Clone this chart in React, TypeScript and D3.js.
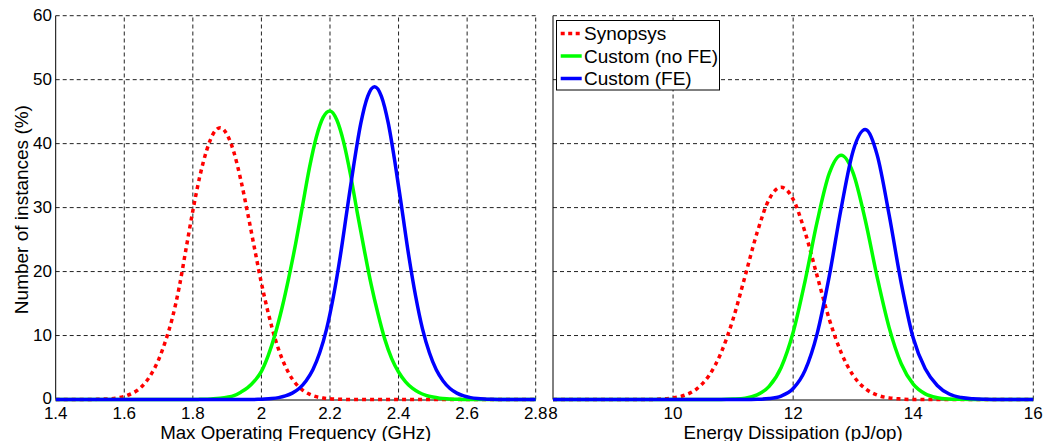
import React, { useEffect, useRef } from 'react';
import * as d3 from 'd3';

const W = 1046;
const H = 441;

// Axis ticks
const yTicks = [0, 10, 20, 30, 40, 50, 60];
const freqTicks = [1.4, 1.6, 1.8, 2, 2.2, 2.4, 2.6, 2.8];
const energyTicks = [8, 10, 12, 14, 16];

const seriesNames = ['Synopsys', 'Custom (no FE)', 'Custom (FE)'];

// Distribution of max operating frequency (GHz -> % of instances)
const freqSynopsys: [number, number][] = [
  [1.4, 0], [1.5, 0], [1.52, 0.02], [1.54, 0.06], [1.56, 0.12], [1.58, 0.24], [1.6, 0.47],
  [1.62, 0.9], [1.64, 1.5], [1.66, 2.55], [1.68, 4.1], [1.7, 6.2], [1.72, 9.1], [1.74, 12.7],
  [1.76, 17.5], [1.78, 23.5], [1.8, 29.5], [1.82, 34.8], [1.84, 38.9], [1.86, 41.6], [1.88, 42.5],
  [1.9, 41.4], [1.92, 38.6], [1.94, 34.3], [1.96, 29.1], [1.98, 23.6], [2.0, 18.2], [2.02, 13.5],
  [2.04, 9.5], [2.06, 6.4], [2.08, 4.1], [2.1, 2.5], [2.12, 1.48], [2.14, 0.83], [2.16, 0.44],
  [2.18, 0.23], [2.2, 0.11], [2.22, 0.05], [2.24, 0.02], [2.26, 0], [2.8, 0],
];
const freqCustomNoFE: [number, number][] = [
  [1.4, 0], [1.8, 0], [1.82, 0.02], [1.84, 0.05], [1.86, 0.1], [1.88, 0.2], [1.9, 0.35],
  [1.92, 0.6], [1.94, 1.15], [1.96, 1.85], [1.98, 2.9], [2.0, 4.4], [2.02, 6.9], [2.04, 10.2],
  [2.06, 14.3], [2.08, 19.1], [2.1, 24.4], [2.12, 30.3], [2.14, 36.2], [2.16, 41.0], [2.18, 44.1],
  [2.2, 45.1], [2.22, 43.7], [2.24, 40.2], [2.26, 35.1], [2.28, 29.1], [2.3, 23.4], [2.32, 18.0],
  [2.34, 13.4], [2.36, 9.4], [2.38, 6.4], [2.4, 4.3], [2.42, 2.8], [2.44, 1.76], [2.46, 1.09],
  [2.48, 0.65], [2.5, 0.38], [2.52, 0.21], [2.54, 0.11], [2.56, 0.05], [2.58, 0.02], [2.6, 0], [2.8, 0],
];
const freqCustomFE: [number, number][] = [
  [1.4, 0], [1.97, 0], [1.99, 0.02], [2.01, 0.06], [2.03, 0.14], [2.05, 0.29], [2.07, 0.56],
  [2.09, 1.0], [2.11, 1.72], [2.13, 2.9], [2.15, 4.65], [2.17, 7.3], [2.19, 11.0], [2.21, 16.1],
  [2.23, 22.4], [2.25, 29.7], [2.27, 36.9], [2.29, 43.2], [2.31, 47.4], [2.33, 48.9], [2.35, 47.4],
  [2.37, 43.2], [2.39, 36.9], [2.41, 29.7], [2.43, 22.4], [2.45, 16.1], [2.47, 11.0], [2.49, 7.3],
  [2.51, 4.65], [2.53, 2.9], [2.55, 1.72], [2.57, 1.0], [2.59, 0.56], [2.61, 0.29], [2.63, 0.14],
  [2.65, 0.06], [2.67, 0.02], [2.69, 0], [2.8, 0],
];

// Distribution of energy dissipation (pJ/op -> % of instances)
const energySynopsys: [number, number][] = [
  [8, 0], [9.6, 0], [9.8, 0.08], [10.0, 0.25], [10.2, 0.69], [10.4, 1.71], [10.6, 3.76],
  [10.8, 7.32], [11.0, 12.6], [11.2, 19.3], [11.4, 26.1], [11.6, 31.3], [11.8, 33.2], [12.0, 31.3],
  [12.2, 26.1], [12.4, 19.3], [12.6, 12.6], [12.8, 7.32], [13.0, 3.76], [13.2, 1.71], [13.4, 0.69],
  [13.6, 0.25], [13.8, 0.08], [14.0, 0], [16, 0],
];
const energyCustomNoFE: [number, number][] = [
  [8, 0], [10.8, 0], [11.0, 0.06], [11.2, 0.2], [11.4, 0.72], [11.6, 2.05], [11.8, 5.0],
  [12.0, 10.5], [12.2, 18.6], [12.4, 27.8], [12.6, 35.3], [12.8, 38.2], [13.0, 35.4], [13.2, 28.1],
  [13.4, 19.1], [13.6, 11.2], [13.8, 5.59], [14.0, 2.4], [14.2, 0.88], [14.4, 0.28], [14.6, 0.08],
  [14.8, 0.02], [15.0, 0], [16, 0],
];
const energyCustomFE: [number, number][] = [
  [8, 0], [11.2, 0], [11.4, 0.03], [11.6, 0.14], [11.8, 0.53], [12.0, 1.71], [12.2, 4.59],
  [12.4, 10.3], [12.6, 19.2], [12.8, 29.9], [13.0, 38.9], [13.2, 42.2], [13.4, 38.2], [13.6, 28.8],
  [13.8, 18.2], [14.0, 9.6], [14.2, 4.8], [14.4, 2.2], [14.6, 0.85], [14.8, 0.3], [15.0, 0.1],
  [15.2, 0.03], [15.4, 0], [16, 0],
];

const colors = ['#ff0000', '#00ff00', '#0000ff'];
const dashes = ['4,4', null, null];

const FONT = "'Liberation Sans', Arial, Helvetica, sans-serif";

export default function App() {
  const ref = useRef<SVGSVGElement>(null);

  useEffect(() => {
    const svg = d3.select(ref.current);
    svg.selectAll('*').remove();

    const y = d3.scaleLinear().domain([0, 60]).range([399.5, 15.7]);

    const panels = [
      {
        x0: 55.7, x1: 535.7, domain: [1.4, 2.8], ticks: freqTicks,
        label: 'Max Operating Frequency (GHz)',
        series: [freqSynopsys, freqCustomNoFE, freqCustomFE],
        yLabels: true,
      },
      {
        x0: 553, x1: 1033.3, domain: [8, 16], ticks: energyTicks,
        label: 'Energy Dissipation (pJ/op)',
        series: [energySynopsys, energyCustomNoFE, energyCustomFE],
        yLabels: false,
      },
    ];

    panels.forEach((p) => {
      const x = d3.scaleLinear().domain(p.domain).range([p.x0, p.x1]);
      const g = svg.append('g');

      // dashed grid
      yTicks.slice(1).forEach((v) => {
        g.append('line')
          .attr('x1', p.x0).attr('x2', p.x1)
          .attr('y1', y(v)).attr('y2', y(v))
          .attr('stroke', '#222').attr('stroke-width', 1)
          .attr('stroke-dasharray', '4,3');
      });
      p.ticks.slice(1).forEach((v) => {
        g.append('line')
          .attr('x1', x(v)).attr('x2', x(v))
          .attr('y1', y(0)).attr('y2', y(60))
          .attr('stroke', '#222').attr('stroke-width', 1)
          .attr('stroke-dasharray', '4,3');
      });

      // axis lines
      g.append('line')
        .attr('x1', p.x0).attr('x2', p.x0).attr('y1', y(0)).attr('y2', y(60))
        .attr('stroke', '#000').attr('stroke-width', 1);
      g.append('line')
        .attr('x1', p.x0).attr('x2', p.x1).attr('y1', y(0) + 0.5).attr('y2', y(0) + 0.5)
        .attr('stroke', '#000').attr('stroke-width', 1);

      // x tick labels
      p.ticks.forEach((v) => {
        g.append('text')
          .attr('x', x(v)).attr('y', 418.5)
          .attr('text-anchor', 'middle')
          .attr('font-family', FONT).attr('font-size', 17)
          .text(String(v));
      });

      // y tick labels
      if (p.yLabels) {
        yTicks.forEach((v) => {
          g.append('text')
            .attr('x', 52).attr('y', v === 0 ? y(v) - 1.5 : y(v))
            .attr('text-anchor', 'end').attr('dominant-baseline', 'central')
            .attr('font-family', FONT).attr('font-size', 17)
            .text(String(v));
        });
      }

      // x axis title
      g.append('text')
        .attr('x', (p.x0 + p.x1) / 2).attr('y', 438.5)
        .attr('text-anchor', 'middle')
        .attr('font-family', FONT).attr('font-size', 18.7)
        .text(p.label);

      // distribution curves
      const line = d3.line<[number, number]>()
        .x((d) => x(d[0]))
        .y((d) => y(d[1]))
        .curve(d3.curveMonotoneX);
      p.series.forEach((s, i) => {
        const path = g.append('path')
          .attr('d', line(s))
          .attr('fill', 'none')
          .attr('stroke', colors[i])
          .attr('stroke-width', 3.5)
          .attr('stroke-linejoin', 'round');
        if (dashes[i]) path.attr('stroke-dasharray', dashes[i] as string);
      });
    });

    // y axis title
    svg.append('text')
      .attr('transform', `translate(27.5, ${(y(0) + y(60)) / 2 + 2}) rotate(-90)`)
      .attr('text-anchor', 'middle')
      .attr('font-family', FONT).attr('font-size', 19)
      .text('Number of instances (%)');

    // legend
    const lg = svg.append('g');
    lg.append('rect')
      .attr('x', 556.5).attr('y', 20.5).attr('width', 163).attr('height', 69.5)
      .attr('fill', '#fff').attr('stroke', '#000').attr('stroke-width', 1);
    seriesNames.forEach((name, i) => {
      const cy = 33.5 + i * 22.5;
      const l = lg.append('line')
        .attr('x1', 560.7).attr('x2', 581.7).attr('y1', cy).attr('y2', cy)
        .attr('stroke', colors[i]).attr('stroke-width', 3.5);
      if (dashes[i]) l.attr('stroke-dasharray', '4,3.5');
      lg.append('text')
        .attr('x', 584).attr('y', cy)
        .attr('dominant-baseline', 'central')
        .attr('font-family', FONT).attr('font-size', 19)
        .text(name);
    });
  }, []);

  return (
    <svg
      ref={ref}
      width={W}
      height={H}
      style={{ position: 'absolute', left: 0, top: 0, background: '#fff' }}
    />
  );
}
